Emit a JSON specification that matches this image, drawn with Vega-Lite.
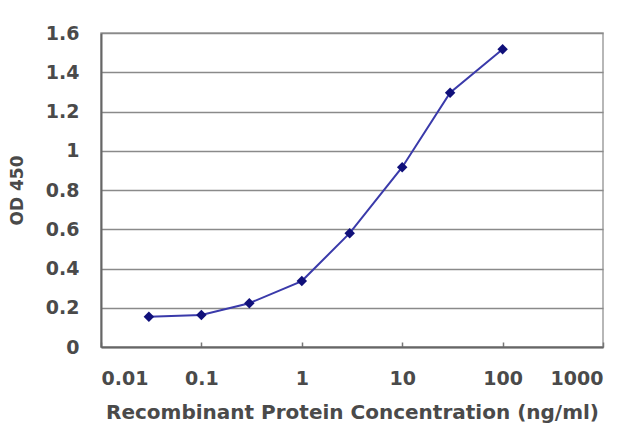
{
  "$schema": "https://vega.github.io/schema/vega-lite/v6.json",
  "autosize": {"type": "none"},
  "width": 502,
  "height": 314,
  "padding": {"left": 101, "top": 33, "right": 37, "bottom": 80},
  "background": "white",
  "data": {
    "values": [
      {"conc": 0.03, "od": 0.154},
      {"conc": 0.1, "od": 0.163},
      {"conc": 0.3, "od": 0.223},
      {"conc": 1, "od": 0.336},
      {"conc": 3, "od": 0.58},
      {"conc": 10, "od": 0.916},
      {"conc": 30, "od": 1.296},
      {"conc": 100, "od": 1.517}
    ]
  },
  "mark": {
    "type": "line",
    "color": "#3a3aaa",
    "strokeWidth": 2,
    "point": {"filled": true, "shape": "diamond", "size": 110, "color": "#10107a"}
  },
  "encoding": {
    "x": {
      "field": "conc",
      "type": "quantitative",
      "scale": {"type": "log", "domain": [0.01, 1000], "nice": false},
      "title": "Recombinant Protein Concentration (ng/ml)",
      "axis": {
        "values": [0.01, 0.1, 1, 10, 100, 1000],
        "format": "~g",
        "grid": false,
        "tickSize": -5,
        "tickColor": "#777777",
        "tickWidth": 1.5,
        "labelPadding": 27,
        "titlePadding": 14,
        "titleFontSize": 20
      }
    },
    "y": {
      "field": "od",
      "type": "quantitative",
      "scale": {"domain": [0, 1.6], "nice": false},
      "title": "OD 450",
      "axis": {
        "values": [0, 0.2, 0.4, 0.6, 0.8, 1, 1.2, 1.4, 1.6],
        "format": "~g",
        "ticks": false,
        "labelPadding": 22,
        "titlePadding": 19,
        "titleFontSize": 17
      }
    }
  },
  "config": {
    "font": "DejaVu Sans",
    "view": {"stroke": "#a0a0a0", "strokeWidth": 1.5},
    "axis": {
      "domainColor": "#666666",
      "domainWidth": 2,
      "gridColor": "#8a8a8a",
      "gridWidth": 1.5,
      "labelFont": "DejaVu Sans",
      "labelFontSize": 19,
      "labelFontWeight": "bold",
      "labelColor": "#4a4a4a",
      "titleFont": "DejaVu Sans",
      "titleFontWeight": "bold",
      "titleColor": "#4a4a4a"
    }
  }
}
